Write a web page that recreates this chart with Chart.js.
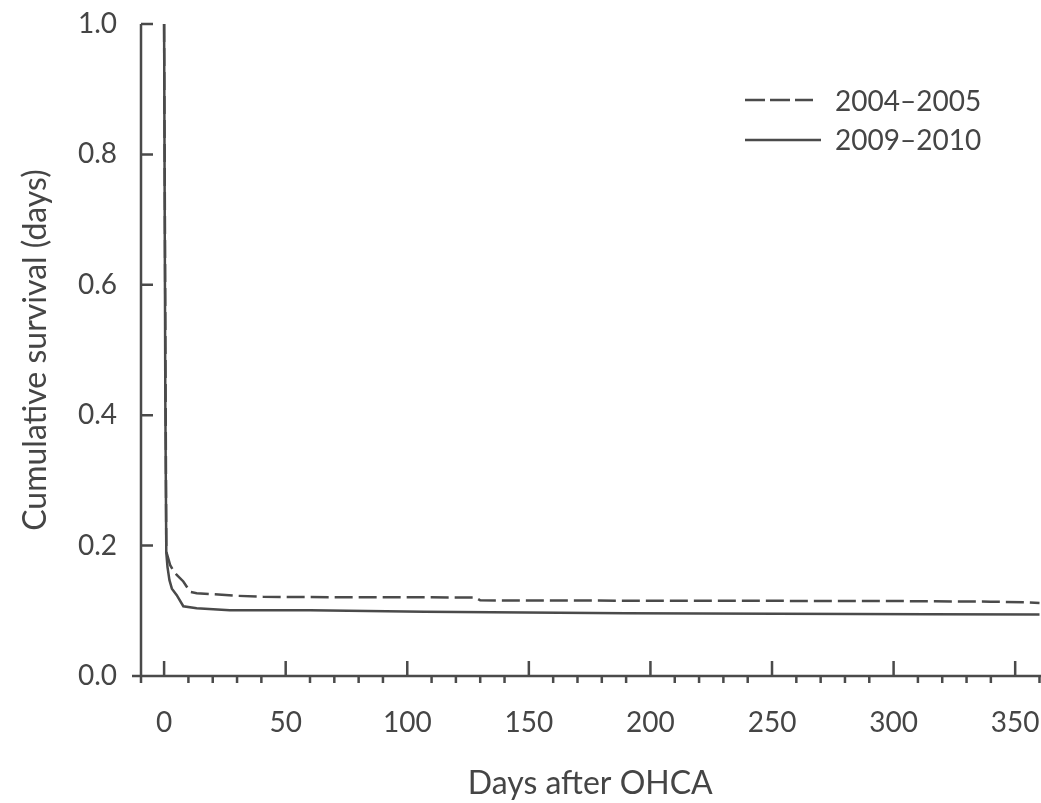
<!DOCTYPE html>
<html>
<head>
<meta charset="utf-8">
<script src="https://cdn.jsdelivr.net/npm/chart.js@4"></script>
<style>
  body { margin: 0; background: #fff; }
</style>
</head>
<body>
<canvas id="survChart" width="1041" height="803"></canvas>
<script>
// tick labels
var xTicks = [0, 50, 100, 150, 200, 250, 300, 350];
var yTicks = [0.0, 0.2, 0.4, 0.6, 0.8, 1.0];

// 2004-2005 (dashed)
var days0405 = [0, 0.9, 2.5, 3.6, 5.2, 7.9, 10.7, 13.4, 29.9, 40.7, 60, 128, 130, 200, 300, 340, 355, 360];
var surv0405 = [1.0, 0.191, 0.170, 0.163, 0.155, 0.145, 0.129, 0.127, 0.123, 0.1215, 0.121, 0.1205, 0.116, 0.1155, 0.115, 0.114, 0.113, 0.112];

// 2009-2010 (solid)
var days0910 = [0, 0.5, 0.9, 1.4, 2.2, 3.2, 5.2, 7.9, 13.4, 27, 60, 107, 190, 314, 360];
var surv0910 = [1.0, 0.42, 0.189, 0.167, 0.147, 0.134, 0.124, 0.107, 0.104, 0.101, 0.101, 0.0985, 0.0962, 0.0947, 0.0945];

var labels = ['2004\u20132005', '2009\u20132010'];

var ink = '#4a4a4a';
var textCol = '#454545';
var fontFam = 'Lato, "Open Sans", sans-serif';

function toPoints(xs, ys) {
  return xs.map(function (d, i) { return { x: d, y: ys[i] }; });
}

// no extra room for the edge labels
function noPad(scale) {
  scale.paddingLeft = 0;
  scale.paddingRight = 0;
  scale.paddingTop = 0;
  scale.paddingBottom = 0;
}

// axes drawn by hand: ticks inside for majors, minor ticks under the x axis
var axesPlugin = {
  id: 'axesPlugin',
  afterDraw: function (chart) {
    var ctx = chart.ctx;
    var xs = chart.scales.x, ys = chart.scales.y;
    var left = chart.chartArea.left;
    var y0 = ys.getPixelForValue(0);
    ctx.save();
    ctx.strokeStyle = ink;
    ctx.lineWidth = 2.5;
    ctx.beginPath();
    ctx.moveTo(left, ys.getPixelForValue(1));
    ctx.lineTo(left, y0 + 7);
    ctx.moveTo(left - 9, y0);
    ctx.lineTo(1041, y0);
    yTicks.forEach(function (v) {
      var py = ys.getPixelForValue(v);
      ctx.moveTo(left, py);
      ctx.lineTo(left + 12, py);
    });
    xTicks.forEach(function (v) {
      var px = xs.getPixelForValue(v);
      ctx.moveTo(px, y0);
      ctx.lineTo(px, y0 - 15);
    });
    for (var d = 10; d <= 360; d += 10) {
      if (d % 50 === 0) continue;
      var px = xs.getPixelForValue(d);
      ctx.moveTo(px, y0);
      ctx.lineTo(px, y0 + 7);
    }
    ctx.stroke();

    // legend
    ctx.font = '28px ' + fontFam;
    ctx.fillStyle = textCol;
    ctx.textBaseline = 'middle';
    ctx.textAlign = 'left';
    ctx.beginPath();
    ctx.setLineDash([20, 5]);
    ctx.moveTo(745, 100);
    ctx.lineTo(813, 100);
    ctx.stroke();
    ctx.beginPath();
    ctx.setLineDash([]);
    ctx.moveTo(745, 140);
    ctx.lineTo(821, 140);
    ctx.stroke();
    ctx.fillText(labels[0], 835, 102);
    ctx.fillText(labels[1], 835, 141);
    ctx.restore();
  }
};

var ctx = document.getElementById('survChart').getContext('2d');
var myChart = new Chart(ctx, {
  type: 'line',
  data: {
    datasets: [{
      label: labels[0],
      data: toPoints(days0405, surv0405),
      borderColor: ink,
      borderWidth: 2.5,
      borderDash: [18, 6],
      pointRadius: 0,
      tension: 0,
      fill: false,
      clip: 4
    }, {
      label: labels[1],
      data: toPoints(days0910, surv0910),
      borderColor: ink,
      borderWidth: 2.5,
      pointRadius: 0,
      tension: 0,
      fill: false,
      clip: 4
    }]
  },
  options: {
    responsive: false,
    animation: false,
    layout: { padding: { top: 24, right: 1.5, left: 0, bottom: 0 } },
    plugins: {
      legend: { display: false },
      tooltip: { enabled: false }
    },
    scales: {
      x: {
        type: 'linear',
        min: -9.5,
        max: 360,
        afterBuildTicks: function (scale) {
          scale.ticks = xTicks.map(function (v) { return { value: v }; });
        },
        afterFit: function (scale) { scale.height = 127; noPad(scale); },
        grid: { display: false, drawTicks: false },
        border: { display: false },
        ticks: {
          color: textCol,
          font: { family: fontFam, size: 28 },
          padding: 30,
          maxRotation: 0,
          autoSkip: false
        },
        title: {
          display: true,
          text: 'Days after OHCA',
          color: textCol,
          font: { family: fontFam, size: 32 },
          padding: { top: 0, bottom: 0 }
        }
      },
      y: {
        min: 0,
        max: 1,
        afterBuildTicks: function (scale) {
          scale.ticks = yTicks.map(function (v) { return { value: v }; });
        },
        afterFit: function (scale) { scale.width = 141; noPad(scale); },
        grid: { display: false, drawTicks: false },
        border: { display: false },
        ticks: {
          color: textCol,
          font: { family: fontFam, size: 28 },
          padding: 24,
          callback: function (v) { return Number(v).toFixed(1); }
        },
        title: {
          display: true,
          text: 'Cumulative survival (days)',
          color: textCol,
          font: { family: fontFam, size: 32 },
          padding: { top: 16, bottom: 0 }
        }
      }
    }
  },
  plugins: [axesPlugin]
});
</script>
</body>
</html>
